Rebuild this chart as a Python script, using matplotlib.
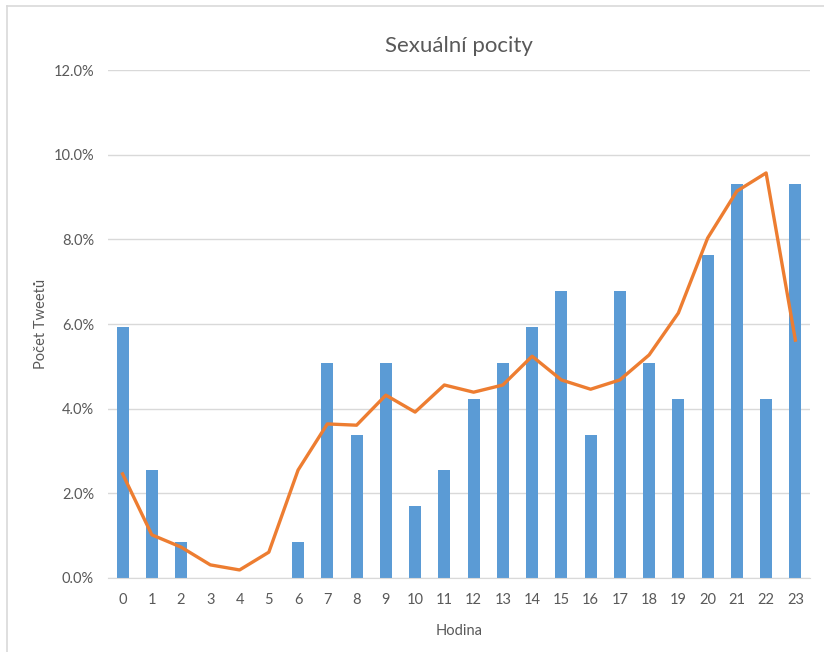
import numpy as np
import matplotlib
matplotlib.use("Agg")
import matplotlib.pyplot as plt
from matplotlib.lines import Line2D
from matplotlib.ticker import PercentFormatter

# hodiny 0-23
hours = list(range(24))
# podil tweetu v dane hodine (pocet / 118)
tweet_share = [5.93, 2.54, 0.85, 0.0, 0.0, 0.0, 0.85, 5.08, 3.39, 5.08, 1.69, 2.54,
               4.24, 5.08, 5.93, 6.78, 3.39, 6.78, 5.08, 4.24, 7.63, 9.32, 4.24, 9.32]
# srovnavaci krivka
line_share = [2.46, 1.02, 0.73, 0.31, 0.19, 0.61, 2.55, 3.64, 3.61, 4.32, 3.92, 4.56,
              4.39, 4.56, 5.24, 4.68, 4.46, 4.68, 5.27, 6.26, 8.03, 9.14, 9.57, 5.62]
y_ticks = [0, 2, 4, 6, 8, 10, 12]

plt.rcParams["font.family"] = ["Lato", "DejaVu Sans"]
text_color = "#595959"

fig = plt.figure(figsize=(8.24, 6.52), dpi=100)
ax = fig.add_axes([0.131, 0.1135, 0.852, 0.779])

x = np.array(hours)
ax.bar(x, np.array(tweet_share) / 100, width=0.41, color="#5B9BD5", zorder=2)
ax.plot(x, np.array(line_share) / 100, color="#ED7D31", linewidth=2.4,
        solid_joinstyle="round", zorder=3)

ax.set_xlim(-0.5, 23.5)
ax.set_ylim(0, 0.12)
ax.set_yticks([t / 100 for t in y_ticks])
ax.yaxis.set_major_formatter(PercentFormatter(xmax=1, decimals=1))
ax.set_xticks(x)
ax.set_xticklabels([str(h) for h in hours])

ax.grid(axis="y", color="#D9D9D9", linewidth=1, zorder=0)
for side in ["top", "right", "left"]:
    ax.spines[side].set_visible(False)
ax.spines["bottom"].set_color("#D9D9D9")
ax.tick_params(axis="both", length=0, colors=text_color, labelsize=10.5)
ax.tick_params(axis="x", pad=11)
ax.tick_params(axis="y", pad=10)

ax.set_title("Sexuální pocity", fontsize=16, color=text_color, pad=13)
ax.set_xlabel("Hodina", fontsize=10.5, color=text_color, labelpad=12)
ax.set_ylabel("Počet Tweetů", fontsize=10.5, color=text_color)
ax.yaxis.set_label_coords(-0.0855, 0.5)

# ramecek grafu (jen levy a horni okraj je videt)
fig.add_artist(Line2D([7 / 824, 7 / 824], [0, 1 - 6 / 652], color="#D9D9D9",
                      linewidth=1.2, transform=fig.transFigure))
fig.add_artist(Line2D([7 / 824, 1], [1 - 6 / 652, 1 - 6 / 652], color="#D9D9D9",
                      linewidth=1.2, transform=fig.transFigure))

fig.savefig("out.png", dpi=100)
